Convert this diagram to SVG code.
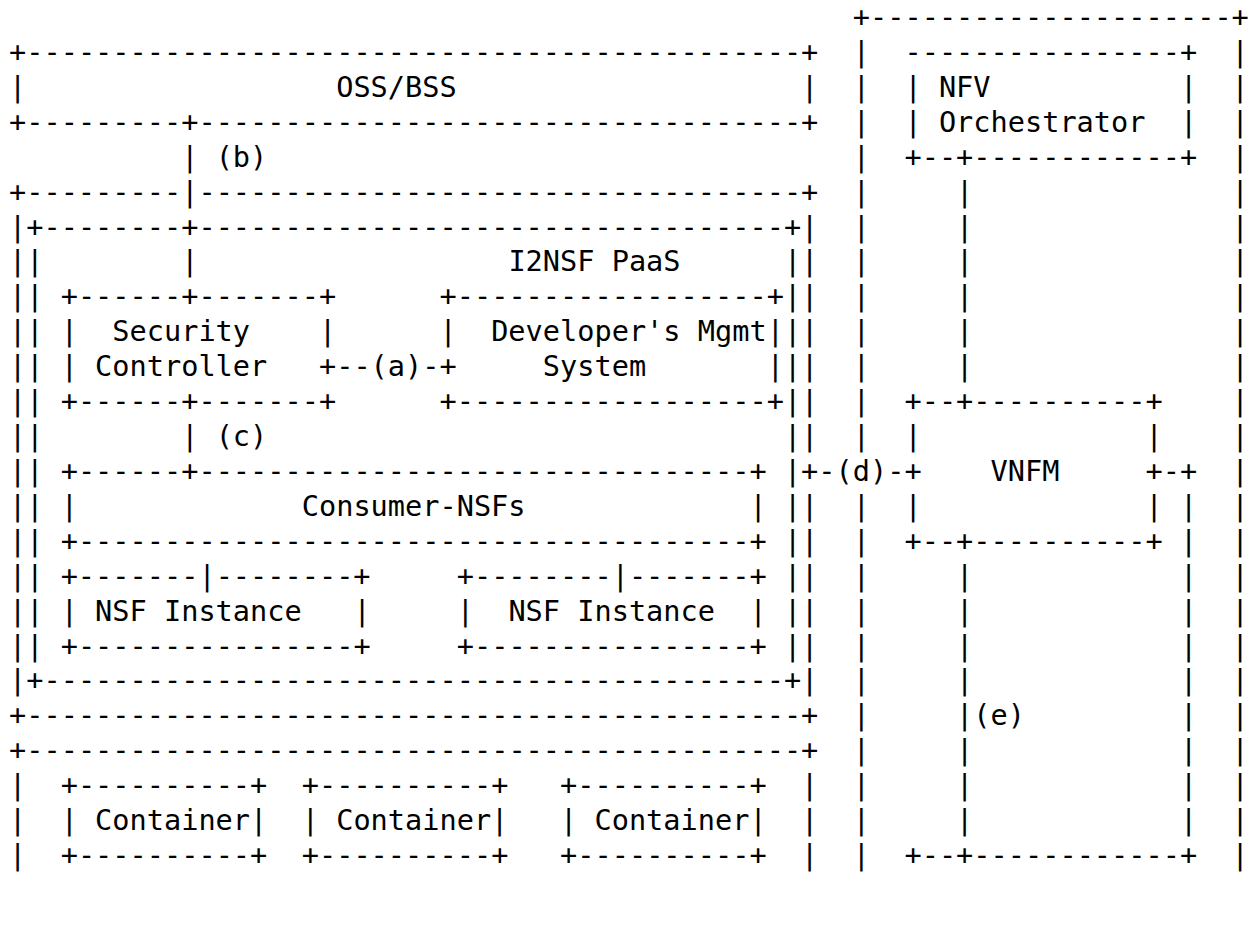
<svg xmlns="http://www.w3.org/2000/svg" width="1254" height="938" viewBox="0 0 1254 938">
<style>
text{font-family:"DejaVu Sans Mono","Liberation Mono",monospace;font-size:28.6px;fill:#000;white-space:pre}
</style>
<rect x="0" y="0" width="1254" height="938" fill="#fff"/>
<g id="oss-bss">
<text x="9" y="61.92" textLength="809.34">+---------------------------------------------+</text>
<text x="9" y="96.84">|</text><text x="336.18" y="96.84">OSS/BSS</text><text x="801.12" y="96.84">|</text>
<text x="9" y="131.76" textLength="809.34">+---------+-----------------------------------+</text>
</g>
<g id="outer-block">
<text x="9" y="201.6">+---------</text>
<text x="198.42" y="201.6" textLength="619.92">-----------------------------------+</text>
<text x="9 9 9 9 9 9 9 9 9 9 9 9 9 9" y="236.52 271.44 306.36 341.28 376.2 411.12 446.04 480.96 515.88 550.8 585.72 620.64 655.56 690.48">||||||||||||||</text>
<text x="801.12 801.12 801.12 801.12 801.12 801.12 801.12" y="236.52 271.44 306.36 341.28 376.2 411.12 446.04">|||||||</text>
<text x="801.12 801.12 801.12 801.12 801.12 801.12" y="515.88 550.8 585.72 620.64 655.56 690.48">||||||</text>
<text x="9" y="725.4" textLength="809.34">+---------------------------------------------+</text>
</g>
<g id="i2nsf-paas">
<text x="26.22" y="236.52" textLength="774.9">+--------+----------------------------------+</text>
<text x="26.22 26.22 26.22 26.22 26.22 26.22 26.22 26.22 26.22 26.22 26.22 26.22" y="271.44 306.36 341.28 376.2 411.12 446.04 480.96 515.88 550.8 585.72 620.64 655.56">||||||||||||</text>
<text x="783.9 783.9 783.9 783.9 783.9 783.9 783.9 783.9 783.9 783.9 783.9 783.9" y="271.44 306.36 341.28 376.2 411.12 446.04 480.96 515.88 550.8 585.72 620.64 655.56">||||||||||||</text>
<text x="508.38" y="271.44">I2NSF PaaS</text>
<text x="26.22" y="690.48" textLength="774.9">+-------------------------------------------+</text>
</g>
<g id="security-controller">
<text x="60.66" y="306.36" textLength="275.52">+------+-------+</text>
<text x="60.66" y="341.28">|</text><text x="112.32" y="341.28">Security</text><text x="318.96" y="341.28">|</text>
<text x="60.66" y="376.2">|</text><text x="95.1" y="376.2">Controller</text><text x="318.96" y="376.2">+</text>
<text x="60.66" y="411.12" textLength="275.52">+------+-------+</text>
</g>
<g id="developers-mgmt-system">
<text x="439.5" y="306.36" textLength="344.4">+------------------+</text>
<text x="439.5" y="341.28">|</text><text x="491.16" y="341.28">Developer's Mgmt</text><text x="766.68" y="341.28">|</text>
<text x="439.5" y="376.2">+</text><text x="542.82" y="376.2">System</text><text x="766.68" y="376.2">|</text>
<text x="439.5" y="411.12" textLength="344.4">+------------------+</text>
</g>
<g id="consumer-nsfs">
<text x="60.66" y="480.96" textLength="706.02">+------+--------------------------------+</text>
<text x="60.66" y="515.88">|</text><text x="301.74" y="515.88">Consumer-NSFs</text><text x="749.46" y="515.88">|</text>
<text x="60.66" y="550.8" textLength="706.02">+---------------------------------------+</text>
</g>
<g id="nsf-instance-1">
<text x="60.66" y="585.72">+-------</text><text x="215.64" y="585.72">--------+</text>
<text x="60.66" y="620.64">|</text><text x="95.1" y="620.64">NSF Instance</text><text x="353.4" y="620.64">|</text>
<text x="60.66" y="655.56" textLength="309.96">+----------------+</text>
</g>
<g id="nsf-instance-2">
<text x="456.72" y="585.72">+--------</text><text x="628.92" y="585.72">-------+</text>
<text x="456.72" y="620.64">|</text><text x="508.38" y="620.64">NSF Instance</text><text x="749.46" y="620.64">|</text>
<text x="456.72" y="655.56" textLength="309.96">+----------------+</text>
</g>
<g id="container-host">
<text x="9" y="760.32" textLength="809.34">+---------------------------------------------+</text>
<text x="9 9 9" y="795.24 830.16 865.08">|||</text>
<text x="801.12 801.12 801.12" y="795.24 830.16 865.08">|||</text>
</g>
<g id="container-1">
<text x="60.66" y="795.24" textLength="206.64">+----------+</text>
<text x="60.66" y="830.16">| Container|</text>
<text x="60.66" y="865.08" textLength="206.64">+----------+</text>
</g>
<g id="container-2">
<text x="301.74" y="795.24" textLength="206.64">+----------+</text>
<text x="301.74" y="830.16">| Container|</text>
<text x="301.74" y="865.08" textLength="206.64">+----------+</text>
</g>
<g id="container-3">
<text x="560.04" y="795.24" textLength="206.64">+----------+</text>
<text x="560.04" y="830.16">| Container|</text>
<text x="560.04" y="865.08" textLength="206.64">+----------+</text>
</g>
<g id="nfv-domain">
<text x="852.78" y="27" textLength="396.06">+---------------------+</text>
<text x="852.78 852.78 852.78 852.78 852.78 852.78 852.78 852.78 852.78 852.78 852.78 852.78" y="61.92 96.84 131.76 166.68 201.6 236.52 271.44 306.36 341.28 376.2 411.12 446.04">||||||||||||</text>
<text x="852.78 852.78 852.78 852.78 852.78 852.78 852.78 852.78 852.78 852.78 852.78" y="515.88 550.8 585.72 620.64 655.56 690.48 725.4 760.32 795.24 830.16 865.08">|||||||||||</text>
<text x="1231.62 1231.62 1231.62 1231.62 1231.62 1231.62 1231.62 1231.62 1231.62 1231.62 1231.62 1231.62 1231.62 1231.62 1231.62 1231.62 1231.62 1231.62 1231.62 1231.62 1231.62 1231.62 1231.62 1231.62" y="61.92 96.84 131.76 166.68 201.6 236.52 271.44 306.36 341.28 376.2 411.12 446.04 480.96 515.88 550.8 585.72 620.64 655.56 690.48 725.4 760.32 795.24 830.16 865.08">||||||||||||||||||||||||</text>
</g>
<g id="nfv-orchestrator">
<text x="904.44" y="61.92" textLength="292.74">----------------+</text>
<text x="904.44" y="96.84">|</text><text x="938.88" y="96.84">NFV</text><text x="1179.96" y="96.84">|</text>
<text x="904.44" y="131.76">|</text><text x="938.88" y="131.76">Orchestrator</text><text x="1179.96" y="131.76">|</text>
<text x="904.44" y="166.68" textLength="292.74">+--+------------+</text>
</g>
<g id="vnfm">
<text x="904.44" y="411.12" textLength="258.3">+--+----------+</text>
<text x="904.44" y="446.04">|</text><text x="1145.52" y="446.04">|</text>
<text x="904.44" y="480.96">+</text><text x="990.54" y="480.96">VNFM</text><text x="1145.52" y="480.96">+</text>
<text x="904.44" y="515.88">|</text><text x="1145.52" y="515.88">|</text>
<text x="904.44" y="550.8" textLength="258.3">+--+----------+</text>
</g>
<g id="vim">
<text x="904.44" y="865.08" textLength="292.74">+--+------------+</text>
</g>
<g id="connectors">
<text x="181.2 181.2" y="166.68 201.6">||</text>
<text x="181.2" y="271.44">|</text>
<text x="181.2" y="446.04">|</text>
<text x="215.64" y="166.68">(b)</text>
<text x="215.64" y="446.04">(c)</text>
<text x="336.18" y="376.2">--(a)-</text>
<text x="801.12" y="480.96">+-(d)-</text>
<text x="956.1 956.1 956.1 956.1 956.1 956.1" y="201.6 236.52 271.44 306.36 341.28 376.2">||||||</text>
<text x="956.1 956.1 956.1 956.1 956.1 956.1 956.1 956.1" y="585.72 620.64 655.56 690.48 725.4 760.32 795.24 830.16">||||||||</text>
<text x="973.32" y="725.4">(e)</text>
<text x="1162.74" y="480.96">-+</text>
<text x="1179.96 1179.96 1179.96 1179.96 1179.96 1179.96 1179.96 1179.96 1179.96 1179.96" y="515.88 550.8 585.72 620.64 655.56 690.48 725.4 760.32 795.24 830.16">||||||||||</text>
<text x="198.42" y="585.72">|</text>
<text x="611.7" y="585.72">|</text>
</g>
</svg>
